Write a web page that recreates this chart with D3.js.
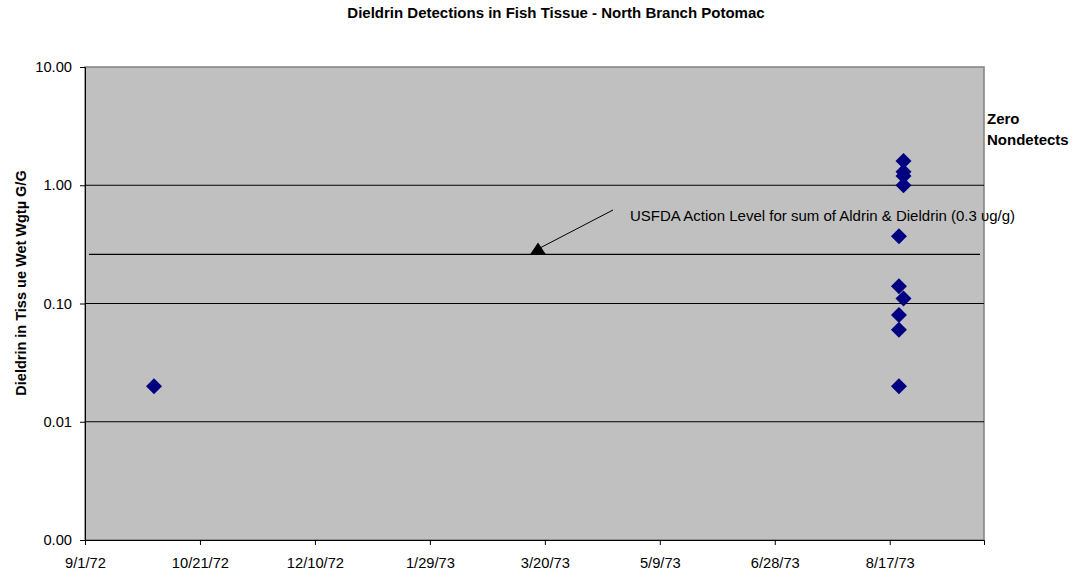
<!DOCTYPE html>
<html>
<head>
<meta charset="utf-8">
<script src="https://cdn.jsdelivr.net/npm/d3@7"></script>
<style>
  body { margin: 0; background: #fff; }
  svg text { font-family: "Liberation Sans", Arial, sans-serif; fill: #000; }
  .axis path, .axis line { stroke: #000; }
</style>
</head>
<body>
<div id="chart-container"></div>
<script>
// chart of dieldrin detections, log scale on y
const svgWidth = 1077;
const svgHeight = 577;
const plot = { left: 85, top: 67, right: 984, bottom: 540 };

// data (sample date, value in ug/g)
const sampleDates = ["10/1/72", "8/23/73", "8/23/73", "8/23/73", "8/23/73", "8/21/73", "8/21/73",
    "8/23/73", "8/21/73", "8/21/73", "8/21/73"];
const sampleValues = [0.02, 1.6, 1.3, 1.2, 1.0, 0.37, 0.14, 0.11, 0.08, 0.06, 0.02];

const xTickLabels = ["9/1/72", "10/21/72", "12/10/72", "1/29/73", "3/20/73", "5/9/73", "6/28/73", "8/17/73"];
const xEnd = "9/27/73";
const yTicks = [0.001, 0.01, 0.1, 1, 10];
const gridValues = [0.01, 0.1, 1];
const actionLevel = [0.26];

const parse = d3.timeParse("%m/%d/%y");

const svg = d3.select("#chart-container")
    .append("svg")
    .attr("width", svgWidth)
    .attr("height", svgHeight);

const x = d3.scaleTime()
    .domain([parse(xTickLabels[0]), parse(xEnd)])
    .range([plot.left, plot.right]);

const y = d3.scaleLog()
    .domain([0.001, 10])
    .range([plot.bottom, plot.top]);

// gray plot area
svg.append("rect")
    .attr("x", plot.left)
    .attr("y", plot.top)
    .attr("width", plot.right - plot.left)
    .attr("height", plot.bottom - plot.top)
    .attr("fill", "#c0c0c0")
    .attr("stroke", "#808080")
    .attr("stroke-width", 1.5);

// gridlines
svg.selectAll(".grid")
    .data(gridValues)
    .enter()
    .append("line")
    .attr("x1", plot.left)
    .attr("x2", plot.right)
    .attr("y1", d => y(d))
    .attr("y2", d => y(d))
    .attr("stroke", "#000")
    .attr("stroke-width", 1);

// action level line + arrow
svg.selectAll(".action")
    .data(actionLevel)
    .enter()
    .append("line")
    .attr("x1", plot.left + 4)
    .attr("x2", plot.right - 4)
    .attr("y1", d => y(d))
    .attr("y2", d => y(d))
    .attr("stroke", "#000")
    .attr("stroke-width", 1.2);

const ay = y(actionLevel[0]);
svg.append("line")
    .attr("x1", 613).attr("y1", 210)
    .attr("x2", 541).attr("y2", ay - 7)
    .attr("stroke", "#000")
    .attr("stroke-width", 1);
svg.append("polygon")
    .attr("points", `${530},${ay} ${546},${ay} ${538},${ay - 12}`)
    .attr("fill", "#000");

svg.append("text")
    .text("USFDA Action Level for sum of Aldrin & Dieldrin (0.3 \u03c5g/g)")
    .attr("x", 630)
    .attr("y", 221)
    .style("font-size", "15px");

// axes
svg.append("g")
    .attr("class", "axis axis-x")
    .attr("transform", `translate(0, ${plot.bottom})`)
    .call(d3.axisBottom(x)
        .tickValues(xTickLabels.map(parse))
        .tickFormat(d3.timeFormat("%-m/%-d/%y"))
        .tickSizeOuter(0)
        .tickSize(5)
        .tickPadding(13))
    .call(g => g.selectAll("text").style("font-size", "14.7px"));

svg.append("g")
    .attr("class", "axis axis-y")
    .attr("transform", `translate(${plot.left}, 0)`)
    .call(d3.axisLeft(y)
        .tickValues(yTicks)
        .tickFormat(d3.format(".2f"))
        .tickSizeOuter(0)
        .tickSize(5)
        .tickPadding(8))
    .call(g => g.selectAll("text").style("font-size", "14.7px"));

// points
svg.selectAll(".pt")
    .data(sampleDates.map((d, i) => [parse(d), sampleValues[i]]))
    .enter()
    .append("path")
    .attr("d", d3.symbol(d3.symbolSquare, 128))
    .attr("transform", d => `translate(${x(d[0])},${y(d[1])}) rotate(45)`)
    .attr("fill", "#000080");

// titles
svg.append("text")
    .text("Dieldrin Detections in Fish Tissue - North Branch Potomac")
    .attr("x", 556)
    .attr("y", 18)
    .attr("text-anchor", "middle")
    .style("font-size", "15px")
    .style("font-weight", "bold");

svg.append("text")
    .text("Dieldrin in Tiss ue Wet Wgt\u00b5 G/G")
    .attr("transform", "translate(26, 283) rotate(-90)")
    .attr("text-anchor", "middle")
    .style("font-size", "14.5px")
    .style("font-weight", "bold");

svg.append("text")
    .text("Zero")
    .attr("x", 987)
    .attr("y", 124)
    .style("font-size", "15px")
    .style("font-weight", "bold");
svg.append("text")
    .text("Nondetects")
    .attr("x", 987)
    .attr("y", 145)
    .style("font-size", "15px")
    .style("font-weight", "bold");
</script>
</body>
</html>
